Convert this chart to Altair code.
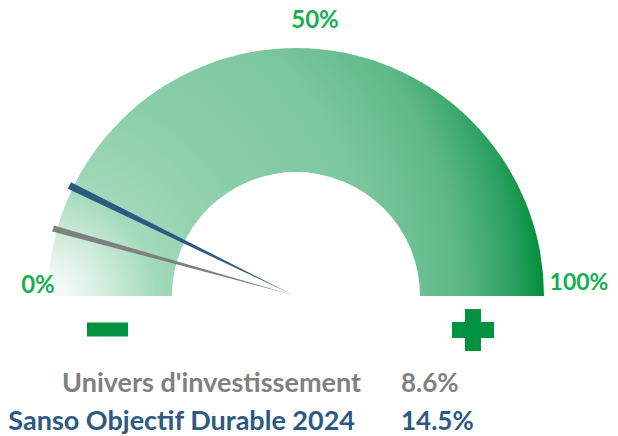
import math
import altair as alt
import pandas as pd

# ---- data ----
series_names = ["Univers d'investissement", "Sanso Objectif Durable 2024"]
series_values = [8.6, 14.5]
series_colors = ["#808080", "#2d5a82"]
tick_values = [0, 50, 100]
tick_labels = ["0%", "50%", "100%"]
gauge_range = [0, 100]

# ---- layout / style ----
W, H = 602, 428
CX, CY = 288, 288
R_OUT, R_IN = 248, 124
FONT = "Lato"
GREEN_TXT = "#14b04f"
GREEN_SIGN = "#00923f"

series_df = pd.DataFrame({
    "name": series_names,
    "value": series_values,
    "label": [f"{v}%" for v in series_values],
})
tick_df = pd.DataFrame({"v": tick_values, "label": tick_labels})
gauge_df = pd.DataFrame({"start": [gauge_range[0]], "end": [gauge_range[1]]})

theta_scale = alt.Scale(domain=gauge_range, range=[-math.pi / 2, math.pi / 2])
color_scale = alt.Scale(domain=series_names, range=series_colors)

grad = alt.RadialGradient(
    gradient="radial",
    x1=0.0, y1=0.75, r1=0.0,
    x2=0.0, y2=0.75, r2=1.0,
    stops=[
        alt.GradientStop(color="#ffffff", offset=0.0),
        alt.GradientStop(color="#e6f5ec", offset=0.07),
        alt.GradientStop(color="#a2d9ba", offset=0.22),
        alt.GradientStop(color="#8acea8", offset=0.42),
        alt.GradientStop(color="#7cc79e", offset=0.66),
        alt.GradientStop(color="#5db887", offset=0.83),
        alt.GradientStop(color="#2ba060", offset=0.94),
        alt.GradientStop(color="#008e3c", offset=1.0),
    ],
)

gauge = alt.Chart(gauge_df).mark_arc(
    radius=R_OUT, radius2=R_IN, fill=grad, stroke=None
).encode(
    theta=alt.Theta("start:Q", scale=theta_scale, stack=None),
    theta2="end:Q",
    x=alt.value(CX),
    y=alt.value(CY),
)

needles = alt.Chart(series_df).transform_calculate(
    lo="datum.value - (datum.value > 10 ? 0.46 : 0.4)",
    hi="datum.value + (datum.value > 10 ? 0.46 : 0.4)",
).mark_arc(radius=R_OUT + 1, radius2=0).encode(
    theta=alt.Theta("lo:Q", scale=theta_scale, stack=None),
    theta2="hi:Q",
    color=alt.Color("name:N", scale=color_scale, legend=None),
    x=alt.value(CX - 3),
    y=alt.value(CY - 1),
)

def tick_layer(v, radius, dx, dy, size):
    return alt.Chart(tick_df).transform_filter(f"datum.v == {v}").mark_text(
        radius=radius, dx=dx, dy=dy, align="center", baseline="alphabetic",
        font=FONT, fontWeight="bold", fontSize=size, color=GREEN_TXT,
    ).encode(
        theta=alt.Theta("v:Q", scale=theta_scale, stack=None),
        text="label:N",
        x=alt.value(CX),
        y=alt.value(CY),
    )

ticks = [
    tick_layer(0, 258, 0, -3, 24),
    tick_layer(50, 268, 19, 0, 24),
    tick_layer(100, 283, 0, -6, 23),
]

minus = alt.Chart(gauge_df).mark_point(
    shape="M-1,-0.34H1V0.34H-1Z", size=41 * 41, filled=True, opacity=1,
    color=GREEN_SIGN, strokeWidth=0,
).encode(x=alt.value(99.5), y=alt.value(321.5))

plus = alt.Chart(gauge_df).mark_point(
    shape="M-1,-0.38H-0.38V-1H0.38V-0.38H1V0.38H0.38V1H-0.38V0.38H-1Z",
    size=42 * 42, filled=True, opacity=1, color=GREEN_SIGN, strokeWidth=0,
).encode(x=alt.value(465), y=alt.value(322))

y_scale = alt.Scale(type="point", domain=series_names, range=[384, 422], padding=0)

legend_names = alt.Chart(series_df).mark_text(
    align="right", baseline="alphabetic", font=FONT, fontWeight="bold", fontSize=27,
).encode(
    x=alt.X("name:N", scale=alt.Scale(type="point", domain=series_names, range=[353, 347], padding=0), axis=None),
    y=alt.Y("name:N", scale=y_scale, axis=None),
    text="name:N",
    color=alt.Color("name:N", scale=color_scale, legend=None),
)

legend_values = alt.Chart(series_df).mark_text(
    align="left", baseline="alphabetic", font=FONT, fontWeight="bold", fontSize=26,
).encode(
    x=alt.value(393),
    y=alt.Y("name:N", scale=y_scale, axis=None),
    text="label:N",
    color=alt.Color("name:N", scale=color_scale, legend=None),
)

chart = alt.layer(
    gauge, needles, *ticks, minus, plus, legend_names, legend_values
).properties(
    width=W, height=H, autosize="none", padding=0
).configure(background="#ffffff").configure_view(stroke=None, strokeWidth=0)

chart.save("out.html", embed_options={"renderer": "svg", "actions": False})
